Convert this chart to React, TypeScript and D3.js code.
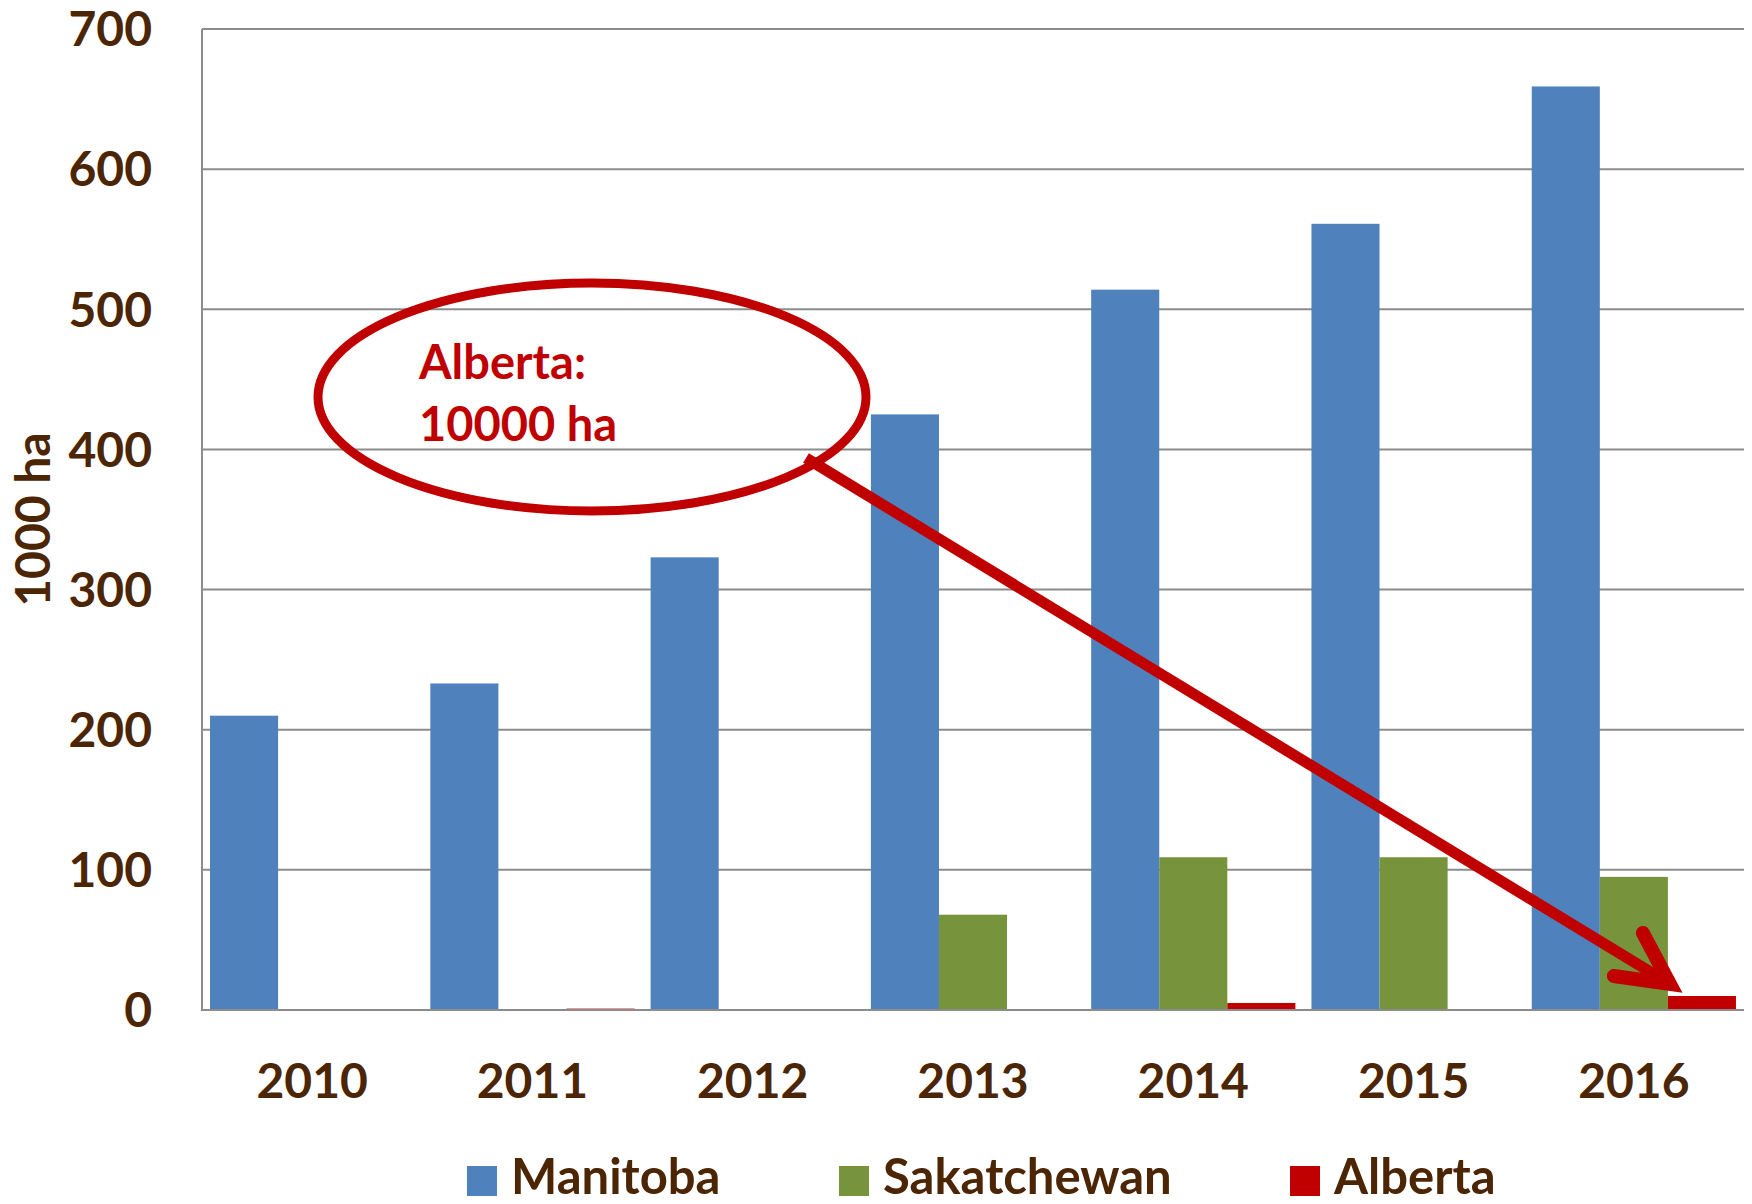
import { useEffect, useRef } from 'react';
import * as d3 from 'd3';

const years = ['2010', '2011', '2012', '2013', '2014', '2015', '2016'];
const series = ['Manitoba', 'Sakatchewan', 'Alberta'];
const manitoba = [210, 233, 323, 425, 514, 561, 659];
const sakatchewan = [0, 0, 0, 68, 109, 109, 95];
const alberta = [0, 1, 0, 0, 5, 0, 10];
const yTicks = [0, 100, 200, 300, 400, 500, 600, 700];
const colors = ['#4F81BD', '#77933C', '#C00000'];

const W = 1752;
const H = 1204;
const textColor = '#4b2504';
const font = 'Lato, "Open Sans", sans-serif';

const render = (node: SVGSVGElement) => {
  const svg = d3.select(node);
  svg.selectAll('*').remove();

  const margins = { top: 29, right: 8, bottom: 194, left: 202 };

  const x = d3
    .scaleBand()
    .domain(years)
    .range([margins.left, W - margins.right])
    .padding(0);
  const xInner = d3
    .scaleBand()
    .domain(series)
    .range([0, x.bandwidth()])
    .paddingInner(0)
    .paddingOuter(0.118);
  const y = d3
    .scaleLinear()
    .domain([0, 700])
    .range([H - margins.bottom, margins.top]);

  const values = [manitoba, sakatchewan, alberta];
  const table = years.map((yr, i) => ({
    year: yr,
    vals: series.map((s, j) => ({ key: s, value: values[j][i], color: colors[j] })),
  }));

  // gridlines
  svg
    .append('g')
    .selectAll('line')
    .data(yTicks.filter((t) => t > 0))
    .enter()
    .append('line')
    .attr('x1', margins.left)
    .attr('x2', W - margins.right)
    .attr('y1', (d) => y(d))
    .attr('y2', (d) => y(d))
    .attr('stroke', '#8c8c8c')
    .attr('stroke-width', 2);

  // bars
  svg
    .append('g')
    .selectAll('g')
    .data(table)
    .enter()
    .append('g')
    .attr('transform', (d) => `translate(${x(d.year)},0)`)
    .selectAll('rect')
    .data((d) => d.vals)
    .enter()
    .append('rect')
    .attr('x', (d) => xInner(d.key)!)
    .attr('y', (d) => y(d.value))
    .attr('width', xInner.bandwidth())
    .attr('height', (d) => y(0) - y(d.value))
    .attr('fill', (d) => d.color);

  // axes lines
  svg
    .append('line')
    .attr('x1', margins.left)
    .attr('x2', margins.left)
    .attr('y1', y(700))
    .attr('y2', y(0) + 1)
    .attr('stroke', '#8c8c8c')
    .attr('stroke-width', 2);
  svg
    .append('line')
    .attr('x1', margins.left - 1)
    .attr('x2', W - margins.right)
    .attr('y1', y(0))
    .attr('y2', y(0))
    .attr('stroke', '#8c8c8c')
    .attr('stroke-width', 2);

  // y tick labels
  svg
    .append('g')
    .selectAll('text')
    .data(yTicks)
    .enter()
    .append('text')
    .attr('x', margins.left - 50)
    .attr('y', (d) => y(d))
    .attr('dy', '0.36em')
    .attr('text-anchor', 'end')
    .attr('font-family', font)
    .attr('font-weight', 700)
    .attr('font-size', 48)
    .attr('fill', textColor)
    .text((d) => d);

  // x labels
  svg
    .append('g')
    .selectAll('text')
    .data(years)
    .enter()
    .append('text')
    .attr('x', (d) => x(d)! + x.bandwidth() / 2)
    .attr('y', 1081)
    .attr('dy', '0.36em')
    .attr('text-anchor', 'middle')
    .attr('font-family', font)
    .attr('font-weight', 700)
    .attr('font-size', 48)
    .attr('fill', textColor)
    .text((d) => d);

  // y title
  svg
    .append('text')
    .attr('transform', `translate(33,${y(350)}) rotate(-90)`)
    .attr('dy', '0.36em')
    .attr('text-anchor', 'middle')
    .attr('font-family', font)
    .attr('font-weight', 700)
    .attr('font-size', 48)
    .attr('fill', textColor)
    .text('1000 ha');

  // legend
  const legendX = [467, 839, 1290];
  const lg = svg
    .append('g')
    .selectAll('g')
    .data(series)
    .enter()
    .append('g')
    .attr('transform', (_d, i) => `translate(${legendX[i]},1176)`);
  lg.append('rect')
    .attr('x', 0)
    .attr('y', -10)
    .attr('width', 30)
    .attr('height', 30)
    .attr('fill', (_d, i) => colors[i]);
  lg.append('text')
    .attr('x', 44)
    .attr('y', 0)
    .attr('dy', '0.36em')
    .attr('font-family', font)
    .attr('font-weight', 700)
    .attr('font-size', 49)
    .attr('fill', textColor)
    .text((d) => d);

  // annotation: ellipse + arrow to Alberta 2016
  const red = '#C00000';
  svg
    .append('ellipse')
    .attr('cx', 592)
    .attr('cy', 397)
    .attr('rx', 274)
    .attr('ry', 114)
    .attr('fill', 'none')
    .attr('stroke', red)
    .attr('stroke-width', 9);
  const note = svg
    .append('text')
    .attr('font-family', font)
    .attr('font-weight', 700)
    .attr('font-size', 47)
    .attr('fill', red);
  note.append('tspan').attr('x', 419).attr('y', 379).text('Alberta:');
  note.append('tspan').attr('x', 419).attr('y', 441).text('10000 ha');

  const tipX = x('2016')! + xInner('Alberta')! + 2;
  const tipY = y(10) - 12;
  svg
    .append('line')
    .attr('x1', 806)
    .attr('y1', 458)
    .attr('x2', tipX - 8)
    .attr('y2', tipY - 5)
    .attr('stroke', red)
    .attr('stroke-width', 11);
  svg
    .append('path')
    .attr('d', `M${tipX - 27},${tipY - 51} L${tipX},${tipY} L${tipX - 56},${tipY - 8}`)
    .attr('fill', 'none')
    .attr('stroke', red)
    .attr('stroke-width', 14)
    .attr('stroke-linecap', 'round')
    .attr('stroke-linejoin', 'miter');
};

export default function App() {
  const ref = useRef<SVGSVGElement>(null);
  useEffect(() => {
    if (ref.current) render(ref.current);
  }, []);
  return (
    <svg
      ref={ref}
      width={W}
      height={H}
      style={{ position: 'absolute', left: 0, top: 0, background: '#fff' }}
    />
  );
}
